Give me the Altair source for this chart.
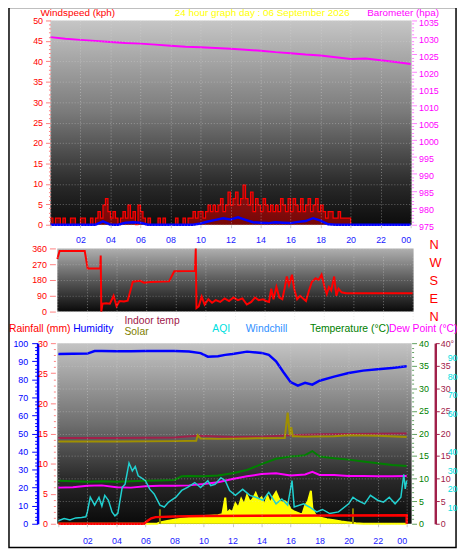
import altair as alt
import pandas as pd

FONT = "Liberation Sans"

# ---------------- data ----------------
hour_ticks = [0, 2, 4, 6, 8, 10, 12, 14, 16, 18, 20, 22, 24]

# wind gust (kph), 10-minute steps from 00:00
gust_kph = [
    1.6, 0, 1.6, 1.6, 0, 1.6,
    0, 0, 1.6, 1.6, 0, 0,
    1.6, 1.6, 0, 0, 1.6, 0,
    1.6, 3.2, 1.6, 4.8, 6.4, 3.2,
    1.6, 3.2, 1.6, 0, 1.6, 3.2,
    1.6, 4.8, 1.6, 3.2, 0, 4.8,
    3.2, 1.6, 0, 1.6, 0, 0,
    0, 1.6, 0, 1.6, 0, 0,
    0, 0, 1.6, 0, 0, 1.6,
    0, 1.6, 1.6, 3.2, 1.6, 3.2,
    3.2, 1.6, 3.2, 4.8, 3.2, 4.8,
    3.2, 4.8, 6.4, 3.2, 4.8, 8.0,
    4.8, 6.4, 8.0, 4.8, 6.4, 9.7,
    6.4, 4.8, 8.0, 3.2, 6.4, 4.8,
    3.2, 6.4, 4.8, 3.2, 4.8, 3.2,
    4.8, 3.2, 6.4, 4.8, 3.2, 6.4,
    3.2, 6.4, 4.8, 3.2, 6.4, 3.2,
    4.8, 6.4, 3.2, 4.8, 6.4, 3.2,
    4.8, 3.2, 1.6, 3.2, 3.2, 1.6,
    1.6, 3.2, 1.6, 1.6, 1.6, 1.6,
    0, 0, 0, 0, 0, 0,
    0, 0, 0, 0, 0, 0,
    0, 0, 0, 0, 0, 0,
    0, 0, 0, 0, 0, 0,
    0,
]
gust_hours = [i / 6 for i in range(len(gust_kph))]

# average wind (kph), half-hour steps
avg_wind_kph = [
    0, 0, 0, 0, 0, 0, 0, 0.8, 0, 0, 0.5, 0.6, 0.5, 0, 0, 0, 0, 0, 0, 0,
    0.3, 0.8, 1.2, 1.6, 1.3, 1.8, 1.2, 0.6, 0.5, 0.4, 0.6, 0.5, 0.4, 0.7,
    0.9, 1.6, 1.0, 0.1, 0, 0, 0, 0, 0, 0, 0, 0, 0, 0, 0,
]
avg_hours = [i / 2 for i in range(len(avg_wind_kph))]

baro_hours = list(range(25))
baro_hpa = [1030.1, 1029.6, 1029.3, 1029.0, 1028.7, 1028.4, 1028.2, 1027.9,
            1027.6, 1027.3, 1027.1, 1026.9, 1026.7, 1026.4, 1026.1, 1025.7,
            1025.4, 1025.0, 1024.7, 1024.2, 1023.7, 1023.8, 1023.3, 1022.8,
            1022.2]

# wind direction (degrees)
dir_hours = [0, 0.15, 1.85, 2.05, 2.9, 2.93, 2.97, 3.05, 3.3, 3.55, 3.8, 4.0,
             4.2, 4.5, 4.75, 5.1, 5.6, 5.85, 6.3, 7.55, 7.9, 9.3, 9.35, 9.4,
             9.55, 9.75, 9.95, 10.2, 10.45, 10.7, 11.0, 11.3, 11.6, 11.9,
             12.2, 12.5, 12.8, 13.1, 13.35, 13.6, 13.9, 14.1, 14.3, 14.45,
             14.6, 14.8, 15.0, 15.2, 15.35, 15.5, 15.65, 15.85, 16.0, 16.2,
             16.4, 16.6, 16.8, 17.0, 17.2, 17.45, 17.65, 17.85, 18.05, 18.2,
             18.35, 18.5, 18.7, 18.85, 19.0, 19.2, 19.5, 24]
dir_deg = [300, 345, 345, 245, 245, 320, 0, 45, 48, 45, 90, 30,
           60, 58, 62, 170, 175, 165, 168, 172, 230, 232, 360, 20,
           30, 85, 40, 70, 50, 65, 55, 75, 60, 80,
           65, 75, 40, 55, 80, 65, 70, 60, 55, 130,
           70, 140, 80, 70, 130, 200, 150, 210, 130, 70,
           90, 75, 60, 120, 170, 190, 180, 210, 140, 100,
           140, 120, 200, 90, 130, 110, 105, 105]
compass_deg = [0, 90, 180, 270, 360]
compass_lbl = ["N", "E", "S", "W", "N"]

# bottom panel
hum_hours = [0, 1, 2, 2.5, 3, 4, 5, 6, 7, 8, 9, 9.8, 10.3, 11, 11.5, 12, 13, 14,
             14.5, 15, 15.5, 16, 16.5, 17, 17.5, 18, 19, 20, 21, 22, 23, 24]
hum_pct = [94.0, 94.1, 94.2, 95.6, 95.6, 95.5, 95.5, 95.6, 95.6, 95.7, 95.4,
           94.5, 92.5, 92.8, 93.5, 94.0, 95.3, 94.6, 93.5, 90.0, 84.0, 78.5,
           76.5, 78.0, 77.0, 79.2, 81.5, 83.5, 84.8, 85.5, 86.3, 87.2]

temp_hours = [0, 1, 2, 3, 4, 5, 6, 7, 8, 8.5, 9, 10, 11, 12, 13, 14, 15, 16,
              16.5, 17, 17.5, 18, 19, 20, 21, 22, 23, 24]
temp_c = [9.5, 9.4, 9.3, 9.4, 9.3, 9.4, 9.5, 9.6, 9.7, 10.5, 10.6, 10.5, 10.7,
          11.2, 11.9, 13.2, 14.4, 14.9, 15.0, 15.2, 16.1, 14.9, 14.5, 14.2,
          13.8, 13.4, 13.0, 12.8]

dew_hours = [0, 1, 2, 3, 4, 5, 6, 7, 8, 9, 10, 11, 12, 13, 14, 15, 16, 17,
             17.5, 18, 19, 20, 21, 22, 23, 24]
dew_c = [8.0, 8.1, 8.4, 8.5, 8.1, 8.0, 8.3, 8.4, 8.4, 8.5, 8.8, 9.2, 9.9, 10.5,
         11.0, 11.2, 10.7, 10.9, 11.5, 10.8, 10.8, 10.6, 10.6, 10.5, 10.5, 10.6]

indoor_hours = [0, 4, 8, 9.5, 12, 14, 16, 18, 20, 24]
indoor_c = [19.0, 19.0, 19.1, 19.5, 19.2, 19.3, 19.6, 19.8, 19.9, 20.0]

solar_line_hours = [0, 4, 8, 9.5, 9.6, 9.8, 11, 13, 15.6, 15.8, 15.95, 16.05,
                    16.15, 16.3, 17, 19, 20, 22, 24]
solar_line_val = [18.2, 18.2, 18.3, 18.4, 19.6, 18.9, 18.8, 18.9, 19.0, 24.6,
                  19.6, 21.4, 19.4, 19.4, 19.3, 19.4, 19.6, 19.5, 19.2]

# short olive spikes rising from the bottom edge
olive_spike_hours = [7.0, 20.3]
olive_spike_val = [3.2, 3.4]

solar_area_hours = [0, 6.8, 7.0, 7.5, 8.0, 8.5, 9.0, 9.5, 10.0, 10.5, 11.0,
                    11.3, 11.5, 11.6, 11.8, 12.0, 12.2, 12.4, 12.6, 12.8, 13.0,
                    13.2, 13.4, 13.6, 13.8, 14.0, 14.2, 14.4, 14.6, 14.8, 15.0,
                    15.2, 15.4, 15.6, 15.8, 16.0, 16.2, 16.5, 16.8, 17.0, 17.2,
                    17.4, 17.5, 17.7, 18.0, 18.5, 19.0, 19.5, 20.0, 20.5, 21.0,
                    24]
solar_area_val = [0, 0, 0.3, 0.6, 0.9, 1.1, 1.3, 1.5, 1.7, 1.8, 1.9,
                  2.1, 5.8, 2.2, 3.0, 2.6, 4.5, 3.5, 5.5, 4.2, 6.3,
                  4.8, 5.5, 6.8, 5.2, 5.8, 4.0, 6.2, 4.5, 6.0, 7.0,
                  5.5, 4.6, 5.0, 4.5, 3.2, 2.8, 2.4, 2.0, 4.0, 5.0,
                  7.3, 3.5, 2.0, 1.4, 1.0, 0.8, 0.5, 0.3, 0.1, 0,
                  0]

rain_hours = [0, 5.9, 6.1, 6.4, 6.7, 8.0, 10.0, 24.0, 24.0]
rain_mm = [0, 0, 0.4, 0.9, 1.1, 1.2, 1.3, 1.4, 0]

aqi_hours = [0.0, 0.4, 0.8, 1.2, 1.6, 1.9, 2.0, 2.2, 2.5, 2.8, 3.0, 3.2, 3.45,
             3.7, 3.9, 4.1, 4.4, 4.6, 4.87, 5.1, 5.3, 5.5, 5.7, 6.0, 6.3, 6.6,
             7.0, 7.3, 7.6, 8.1, 8.5, 8.9, 9.4, 9.8, 10.3, 10.5, 10.8, 11.2,
             11.5, 11.8, 12.2, 12.7, 13.2, 13.6, 14.1, 14.5, 15.0, 15.4, 15.8,
             16.1, 16.25, 16.9, 17.3, 17.8, 18.2, 18.7, 19.3, 20.0, 20.3, 20.6,
             21.1, 21.5, 22.0, 22.4, 22.8, 23.2, 23.6, 23.8, 23.9, 24.0]
aqi_val = [3.1, 4.3, 3.5, 4.6, 4.8, 5.2, 7.8, 15.6, 11.4, 15.6, 10.9, 16.6, 14.0,
           7.8, 5.7, 7.0, 20.8, 22.5, 33.8, 29.6, 32.0, 27.0, 26.0, 24.4, 19.9,
           17.3, 11.4, 10.4, 13.0, 15.6, 19.2, 20.8, 23.4, 20.8, 24.4, 21.8,
           22.5, 26.0, 24.4, 19.2, 16.6, 19.8, 16.6, 15.6, 14.0, 18.2, 12.1,
           14.7, 11.4, 24.4, 10.4, 12.1, 10.4, 7.8, 9.1, 6.9, 7.8, 12.1, 15.6,
           14.0, 12.1, 16.6, 14.0, 13.0, 15.6, 12.1, 15.6, 27.7, 20.0, 24.4]

# ---------------- layout helpers ----------------
W = 366
H1, H2, H2V, H3 = 207, 72, 64, 183
X1, X2, X3 = [0, 365], [7, 367], [8, 361]

HOUR_LBL = ("datum.value == 0 ? '' : ((datum.value % 24) < 10 ? '0' + (datum.value % 24)"
            " : '' + (datum.value % 24))")
GRID = "#d8d8d8"


def xenc(rng, labels, pad=8):
    ax = alt.Axis(values=hour_ticks, labelExpr=HOUR_LBL, labels=labels, ticks=labels,
                  tickSize=3, tickColor="#c8c8c8", labelColor="#2020ff", labelFont=FONT,
                  labelFontSize=9, labelPadding=pad, domain=False, grid=True,
                  gridColor=GRID, gridDash=[1, 2], gridOpacity=0.45, title=None, zindex=1)
    return alt.X("h:Q", scale=alt.Scale(domain=[0, 24], range=rng, nice=False, zero=False),
                 axis=ax)


def df(h, v):
    return pd.DataFrame({"h": h, "v": v, "i": list(range(len(h)))})


ONE = pd.DataFrame({"a": [0]})


def bg(x0, x1, h, stops):
    grad = alt.LinearGradient(gradient="linear",
                              stops=[alt.GradientStop(offset=o, color=c) for o, c in stops],
                              x1=0, x2=0, y1=0, y2=1)
    return alt.Chart(ONE).mark_rect(color=grad).encode(
        x=alt.value(x0), x2=alt.value(x1), y=alt.value(0), y2=alt.value(h))


def txt(s, x, y, color, size=10.5, font=FONT):
    return alt.Chart(pd.DataFrame({"t": [s]})).mark_text(
        align="left", baseline="alphabetic", color=color, font=font, fontSize=size
    ).encode(x=alt.value(x), y=alt.value(y), text="t:N")


def cond(test, a, b):
    return {"condition": {"test": test, "value": a}, "value": b}


def yaxis(orient, values, every, color, tick_color, offset=0, major=5, minor=2,
          pad=2, grid=False, domain=False, domain_color=None, domain_w=1, label_expr=None,
          label_offset=0):
    test = f"datum.value % {every} == 0"
    kw = dict(orient=orient, values=values, offset=offset, format="d",
              labelExpr=label_expr or f"{test} ? datum.label : ''",
              tickSize=cond(test, major, minor), tickColor=tick_color,
              labelColor=color, labelFont=FONT, labelFontSize=9, labelPadding=pad,
              labelOffset=label_offset,
              labelOverlap=False, title=None, zindex=1, grid=grid, domain=domain)
    if grid:
        kw.update(gridColor=GRID, gridDash=[1, 2], gridOpacity=cond(test, 0.4, 0))
    if domain:
        kw.update(domainColor=domain_color, domainWidth=domain_w)
    return alt.Axis(**kw)


# ---------------- panel 1: wind speed / barometer ----------------
x1 = xenc(X1, True)
WS = alt.Scale(domain=[0, 50], nice=False)
p1 = alt.layer(
    bg(0, W, H1, [(0, "#c6c6c6"), (0.45, "#7a7a7a"), (0.8, "#2a2a2a"), (1, "#0c0c0c")]),
    alt.Chart(df(gust_hours, gust_kph)).mark_area(
        color="#ff0000", opacity=0.45, interpolate="step-after").encode(
        x=x1, y=alt.Y("v:Q", scale=WS, axis=None)),
    alt.Chart(df(gust_hours, gust_kph)).mark_line(
        color="#ff0000", strokeWidth=1.2, interpolate="step-after").encode(
        x=x1, y=alt.Y("v:Q", scale=WS,
                      axis=yaxis("left", list(range(0, 51)), 5, "#ff0000", "#ff8080",
                                 major=5, minor=2, pad=3, grid=True))),
    alt.Chart(df(avg_hours, avg_wind_kph)).mark_line(color="#0000ff", strokeWidth=2.5).encode(
        x=x1, y=alt.Y("v:Q", scale=WS, axis=None)),
    alt.Chart(df(baro_hours, baro_hpa)).mark_line(color="#ff00ff", strokeWidth=2).encode(
        x=x1, y=alt.Y("v:Q", scale=alt.Scale(domain=[975, 1035], nice=False, zero=False),
                      axis=yaxis("right", list(range(975, 1036)), 5, "#ff00ff", "#ff80ff",
                                 major=5, minor=2, pad=2, label_offset=2))),
    txt("Windspeed (kph)", -10, -5, "#ff0000", 10),
    txt("24 hour graph day : 06 September 2026", 126, -5, "#ffff00", 10),
    txt("Barometer (hpa)", 321, -5, "#ff00ff", 10),
    alt.Chart(ONE).mark_rect(fillOpacity=0, stroke="#000000", strokeWidth=1.5).encode(
        x=alt.value(-42), x2=alt.value(411), y=alt.value(-13), y2=alt.value(534)),
).resolve_scale(y="independent").properties(width=W, height=H1)

# ---------------- panel 2: wind direction ----------------
x2 = xenc(X2, False)
p2 = alt.layer(
    bg(7, 368, H2V, [(0, "#b0b0b0"), (0.5, "#5a5a5a"), (1, "#0a0a0a")]),
    alt.Chart(df(dir_hours, dir_deg)).mark_line(color="#ff0000", strokeWidth=2).encode(
        x=x2, y=alt.Y("v:Q", scale=alt.Scale(domain=[0, 360], range=[H2V, 0], nice=False),
                      axis=alt.Axis(orient="left", values=compass_deg, offset=-5, tickSize=6,
                                    tickColor="#ff8080", labelColor="#ff0000",
                                    labelFont=FONT, labelFontSize=9, labelPadding=3,
                                    domain=False, grid=True, gridColor=GRID,
                                    gridDash=[1, 2], gridOpacity=0.35, title=None,
                                    zindex=1))),
    alt.Chart(pd.DataFrame({"d": compass_deg, "t": compass_lbl})).mark_text(
        align="left", baseline="middle", color="#ff0000", font=FONT, fontSize=13).encode(
        x=alt.value(384), text="t:N",
        y=alt.Y("d:Q", scale=alt.Scale(domain=[0, 360], range=[70, -3], nice=False),
                axis=None)),
).resolve_scale(y="independent").properties(width=W, height=H2)

# ---------------- panel 3: temperatures etc ----------------
x3 = xenc(X3, True, pad=10)
T = alt.Scale(domain=[0, 40], nice=False)


def tline(h, v, color, width=2, axis=None):
    return alt.Chart(df(h, v)).mark_line(color=color, strokeWidth=width).encode(
        x=x3, y=alt.Y("v:Q", scale=T, axis=axis))


p3 = alt.layer(
    bg(7, W, H3, [(0, "#c4c4c4"), (0.45, "#6e6e6e"), (0.75, "#2a2a2a"), (1, "#0a0a0a")]),
    alt.Chart(df(solar_area_hours, solar_area_val)).mark_area(
        color="#ffff00", opacity=1, line={"color": "#ffff00", "strokeWidth": 2}).encode(
        x=x3, y=alt.Y("v:Q", scale=T, axis=None)),
    alt.Chart(df(olive_spike_hours, olive_spike_val)).mark_rule(
        color="#8a8000", strokeWidth=2).encode(
        x=x3, y=alt.Y("v:Q", scale=T, axis=None), y2=alt.value(H3)),
    tline(indoor_hours, indoor_c, "#a0204a", 2,
          yaxis("right", list(range(0, 41, 5)), 5, "#a0204a", "#a0204a", offset=24,
                major=4, minor=4, pad=1, domain=True, domain_color="#a0204a", domain_w=2.5,
                label_expr="datum.value == 40 ? '40°' : datum.label")),
    tline(solar_line_hours, solar_line_val, "#a09000", 2),
    tline(temp_hours, temp_c, "#008000", 2,
          yaxis("right", list(range(0, 41)), 5, "#008000", "#60a060", major=5, minor=2,
                pad=2, grid=True)),
    tline(dew_hours, dew_c, "#ff00ff", 2),
    alt.Chart(df(aqi_hours, aqi_val)).mark_line(color="#20d0d0", strokeWidth=1.5).encode(
        x=x3, y=alt.Y("v:Q", scale=alt.Scale(domain=[1.5, 97.5], nice=False, zero=False),
                      axis=alt.Axis(orient="right", values=[10, 20, 30, 40, 60, 70, 80, 90],
                                    offset=24, ticks=False, domain=False,
                                    labelColor="#00e0e0", labelFont=FONT, labelFontSize=9,
                                    labelPadding=12, title=None, zindex=1))),
    alt.Chart(df(hum_hours, hum_pct)).mark_line(color="#0000ff", strokeWidth=2.5).encode(
        x=x3, y=alt.Y("v:Q", scale=alt.Scale(domain=[0, 100], nice=False),
                      axis=yaxis("left", list(range(0, 101, 2)), 10, "#0000ff", "#0000ff",
                                 offset=13, major=6, minor=3, pad=4, domain=True,
                                 domain_color="#0000ff", domain_w=2.5))),
    alt.Chart(df(rain_hours, rain_mm)).mark_line(color="#ff0000", strokeWidth=2.5).encode(
        x=x3, order="i:Q",
        y=alt.Y("v:Q", scale=alt.Scale(domain=[0, 30], nice=False),
                axis=yaxis("left", list(range(0, 31)), 5, "#ff0000", "#ff8080", offset=-5,
                           major=5, minor=2, pad=3))),
    txt("Rainfall (mm)", -42, -11, "#ff0000"),
    txt("Humidity", 23, -11, "#0000ff"),
    txt("Indoor temp", 75, -19, "#a0204a"),
    txt("Solar", 75, -8, "#808000"),
    txt("AQI", 164, -11, "#00e0e0"),
    txt("Windchill", 198, -11, "#3090ff"),
    txt("Temperature (°C)", 263, -11, "#008000"),
    txt("Dew Point (°C)", 343, -11, "#ff00ff"),
).resolve_scale(y="independent").properties(width=W, height=H3)

chart = alt.vconcat(p1, p2, p3, spacing=24, bounds="flush").properties(
    padding={"left": 0, "top": -5, "right": 0, "bottom": 0}, background="white"
).configure_view(stroke=None)

chart.save("out.html", embed_options={"renderer": "svg", "actions": False})
